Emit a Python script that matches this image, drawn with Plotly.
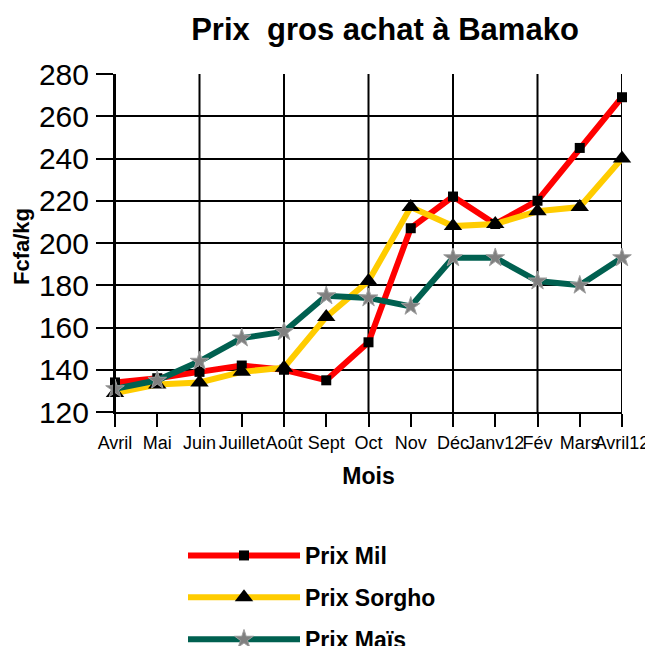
import plotly.graph_objects as go

mois = ["Avril", "Mai", "Juin", "Juillet", "Août", "Sept", "Oct", "Nov",
        "Déc", "Janv12", "Fév", "Mars", "Avril12"]
prix_mil = [134, 136, 139, 142, 140, 135, 153, 207, 222, 209, 220, 245, 269]
prix_sorgho = [129, 133, 134, 139, 141, 165, 182, 217, 208, 209, 215, 217, 240]
prix_mais = [131, 135, 144, 155, 158, 175, 174, 170, 193, 193, 182, 180, 193]
y_ticks = [120, 140, 160, 180, 200, 220, 240, 260, 280]

FONT = "Liberation Sans, Arial, sans-serif"
NARROW = "Liberation Sans Narrow, Arial Narrow, Liberation Sans, sans-serif"
x = list(range(len(mois)))

fig = go.Figure()
fig.add_trace(go.Scatter(
    x=x, y=prix_mil, name="<b>Prix Mil</b>", mode="lines+markers",
    line=dict(color="#FF0000", width=6),
    marker=dict(symbol="square", size=10, color="black"),
    cliponaxis=False, legendgroup="a"))
fig.add_trace(go.Scatter(
    x=x, y=prix_sorgho, name="<b>Prix Sorgho</b>", mode="lines+markers",
    line=dict(color="#FFCC00", width=6),
    marker=dict(symbol="triangle-up", size=16, color="black"),
    cliponaxis=False, legendgroup="b"))
fig.add_trace(go.Scatter(
    x=x, y=prix_mais, name="<b>Prix Maïs</b>", mode="lines+markers",
    line=dict(color="#006050", width=6),
    marker=dict(symbol="star", size=14, color="#808080",
                line=dict(color="#A0A0A0", width=1)),
    cliponaxis=False, legendgroup="c"))

# vertical gridlines every second month
for i in x[::2]:
    fig.add_shape(type="line", xref="x", yref="paper", x0=i, x1=i, y0=0, y1=1,
                  line=dict(color="black", width=2), layer="below")

fig.update_layout(
    width=653, height=646,
    margin=dict(l=107, r=39, t=66, b=242, autoexpand=False),
    paper_bgcolor="white", plot_bgcolor="white",
    font=dict(family=FONT, color="black"),
    title=dict(text="<b>Prix  gros achat à Bamako</b>", font=dict(size=31, family=FONT),
               x=(385 - 115) / 507, xref="paper", xanchor="center",
               y=1 - 21 / 646, yref="container", yanchor="middle"),
    xaxis=dict(range=[0, 12], tickmode="array", tickvals=x, ticktext=mois,
               tickangle=0, showgrid=False, zeroline=False, automargin=False,
               showline=True, linecolor="black", linewidth=2,
               ticks="outside", ticklen=13, tickwidth=2, tickcolor="black",
               tickfont=dict(size=18, family=NARROW),
               title=dict(text="<b>Mois</b>", font=dict(size=23, family=FONT), standoff=16)),
    yaxis=dict(range=[120, 280], tickmode="array", tickvals=y_ticks,
               showgrid=True, gridcolor="black", gridwidth=2, zeroline=False,
               automargin=False,
               showline=True, linecolor="black", linewidth=2,
               ticks="outside", ticklen=17, tickwidth=2, tickcolor="black",
               ticklabelstandoff=1,
               tickfont=dict(size=30, family=NARROW)),
    legend=dict(x=(183 - 115) / 507, xanchor="left", y=(412 - 534) / 338, yanchor="top",
                font=dict(size=23, family=FONT), itemwidth=112, tracegroupgap=9,
                bgcolor="rgba(0,0,0,0)"),
    showlegend=True,
)
fig.add_annotation(text="<b>Fcfa/kg</b>", xref="paper", yref="paper",
                   x=(21 - 115) / 507, y=(412 - 247) / 338, textangle=-90,
                   showarrow=False, font=dict(size=22, family=FONT),
                   xanchor="center", yanchor="middle")

fig.write_html("out.html")
